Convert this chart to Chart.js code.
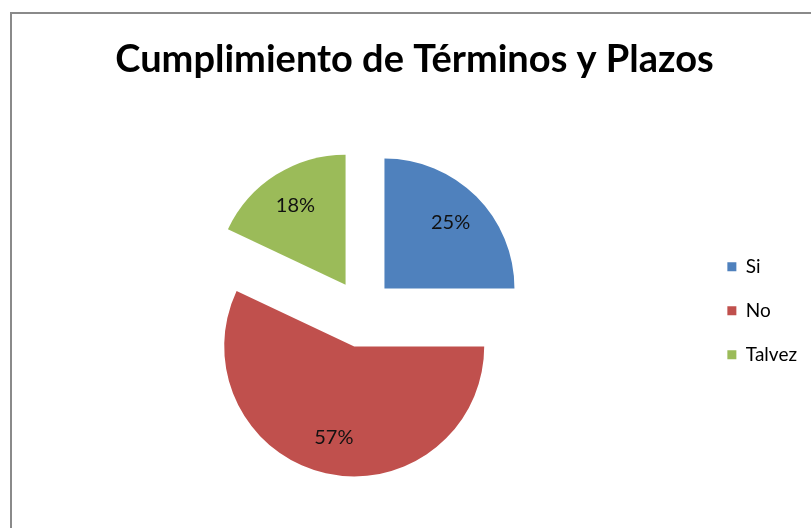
<!DOCTYPE html>
<html>
<head>
<meta charset="utf-8">
<script src="https://cdn.jsdelivr.net/npm/chart.js@4.4.0/dist/chart.umd.min.js"></script>
<style>
    html, body { margin: 0; padding: 0; background: #fff; overflow: hidden; }
    #frame {
        position: absolute;
        left: 10px;
        top: 12px;
        border: 2px solid #8a8a8a;
        width: 812px;
        height: 520px;
    }
    #canvas { display: block; }
</style>
</head>
<body>
<div id="frame"><canvas id="canvas" width="812" height="520"></canvas></div>
<script>
var categories = ['Si', 'No', 'Talvez'];
var values = [25, 57, 18];
var chartTitle = 'Cumplimiento de Términos y Plazos';

// Chart.js grows the radius of big offset slices, so pull the slices out by hand
var explode = {
    id: 'explode',
    beforeDatasetDraw: function(chart, args, opts) {
        var ctx = chart.ctx;
        args.meta.data.forEach(function(arc, i) {
            var mid = (arc.startAngle + arc.endAngle) / 2;
            var d = opts.distance[i] || 0;
            ctx.save();
            ctx.translate(Math.cos(mid) * d, Math.sin(mid) * d);
            arc.draw(ctx);
            ctx.restore();
        });
        return false;
    }
};

// percent labels drawn inside each slice
var sliceLabels = {
    id: 'sliceLabels',
    afterDatasetsDraw: function(chart) {
        var ctx = chart.ctx;
        var meta = chart.getDatasetMeta(0);
        var data = chart.data.datasets[0].data;
        var total = data.reduce(function(a, b) { return a + b; }, 0);
        var dist = chart.options.plugins.explode.distance;
        ctx.save();
        ctx.font = '20px Lato';
        ctx.fillStyle = '#111';
        ctx.textAlign = 'center';
        ctx.textBaseline = 'middle';
        meta.data.forEach(function(arc, i) {
            var mid = (arc.startAngle + arc.endAngle) / 2;
            var r = dist[i] + arc.outerRadius * 0.72;
            ctx.fillText(Math.round(data[i] / total * 100) + '%',
                arc.x + Math.cos(mid) * r, arc.y + Math.sin(mid) * r);
        });
        ctx.restore();
    }
};

var config = {
    type: 'pie',
    data: {
        labels: categories,
        datasets: [{
            data: values,
            backgroundColor: ['#4F81BD', '#C0504D', '#9BBB59'],
            borderWidth: 0,
            hoverOffset: 0
        }]
    },
    options: {
        responsive: false,
        animation: false,
        radius: 130,
        layout: {
            padding: { left: 10, right: 17, top: 0, bottom: 75 }
        },
        plugins: {
            explode: { distance: [31.5, 36.5, 31] },
            title: {
                display: true,
                text: chartTitle,
                color: '#000',
                font: { family: 'Lato', size: 38, weight: 'bold' },
                padding: { top: 23, bottom: 80 }
            },
            legend: {
                position: 'right',
                fullSize: false,
                labels: {
                    color: '#000',
                    font: { family: 'Lato', size: 19 },
                    boxWidth: 9,
                    boxHeight: 9,
                    padding: 25
                }
            },
            tooltip: { enabled: false }
        }
    },
    plugins: [explode, sliceLabels]
};

window.myPie = new Chart(document.getElementById('canvas'), config);
</script>
</body>
</html>
